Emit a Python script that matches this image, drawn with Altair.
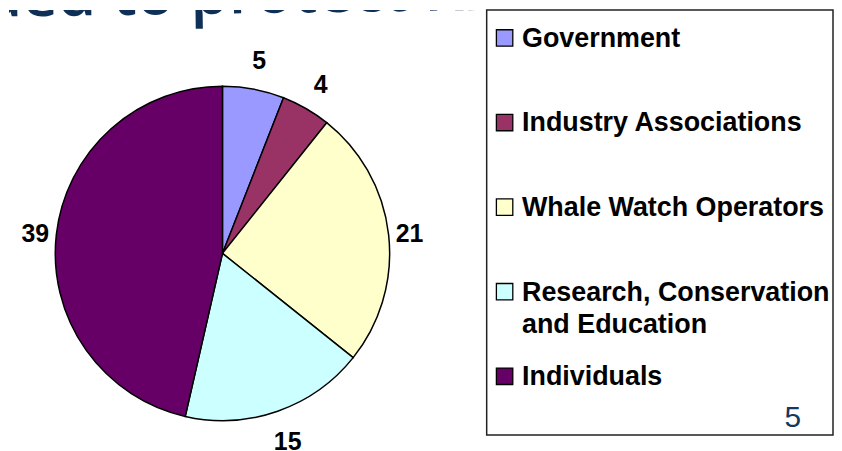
import altair as alt
import pandas as pd

categories = ["Government", "Industry Associations", "Whale Watch Operators",
              "Research, Conservation and Education", "Individuals"]
legend_labels = ["Government", "Industry Associations", "Whale Watch Operators",
                 "Research, Conservation\nand Education", "Individuals"]
values = [5, 4, 21, 15, 39]
colors = ["#9999FF", "#993366", "#FFFFCC", "#CCFFFF", "#660066"]
title_fragment = "ded to protect Killer"
page_number = "5"

df = pd.DataFrame({"category": categories, "label": legend_labels,
                   "value": values, "idx": list(range(len(values)))})

color = alt.Color("category:N", scale=alt.Scale(domain=categories, range=colors), legend=None)

pie = alt.Chart(df).mark_arc(outerRadius=168, stroke="black", strokeWidth=1.5).encode(
    theta=alt.Theta("value:Q", stack=True),
    order=alt.Order("idx:Q"),
    color=color, x=alt.value(214.5), y=alt.value(244.5)
)

labels = alt.Chart(df).transform_joinaggregate(total="sum(value)").transform_window(
    cum="sum(value)", sort=[alt.SortField("idx")], frame=[None, 0]
).transform_calculate(
    mid="datum.cum - datum.value/2"
).transform_calculate(
    r="188 + 11*abs(cos((datum.mid/datum.total)*2*PI))"
).mark_text(fontSize=25, fontWeight="bold", font="Liberation Sans", color="black", dy=2).encode(
    theta=alt.Theta("mid:Q", stack=None),
    text="value:Q",
    radius=alt.Radius("r:Q", scale=None),
    x=alt.value(214.5), y=alt.value(244.5),
)

title = alt.Chart(pd.DataFrame({"t": [title_fragment]})).mark_text(
    align="left", baseline="alphabetic", fontSize=62, font="Open Sans", fontWeight=600,
    color="#0E2F56", clip=True, angle=359.2
).encode(text="t:N", x=alt.value(-25), y=alt.value(6.8))

pie_panel = alt.layer(title, pie, labels).properties(width=478, height=435)

leg_base = alt.Chart(df).encode(
    y=alt.Y("category:N", sort=categories,
            scale=alt.Scale(type="point", range=[28, 368], padding=0), axis=None)
)
squares = leg_base.mark_square(size=272, stroke="black", strokeWidth=1.3, opacity=1).encode(
    x=alt.value(18), color=color
)
texts = leg_base.mark_text(
    align="left", baseline="top", dy=-12, fontSize=27, fontWeight="bold",
    font="Liberation Sans", lineBreak="\n", lineHeight=32, color="black"
).encode(x=alt.value(35.5), text="label:N")
pnum = alt.Chart(pd.DataFrame({"p": [page_number]})).mark_text(
    align="center", baseline="alphabetic", fontSize=30, font="Liberation Sans", color="#17375E"
).encode(text="p:N", x=alt.value(307.5), y=alt.value(419))

legend_panel = alt.layer(squares, texts, pnum).properties(
    width=348, height=427,
    view=alt.ViewBackground(stroke="#222222", strokeWidth=1.5, fill="white"),
)

chart = alt.hconcat(pie_panel, legend_panel, spacing=0).properties(padding=0).configure_view(
    stroke="transparent"
)

chart.save("out.html", embed_options={"renderer": "svg", "actions": False})
